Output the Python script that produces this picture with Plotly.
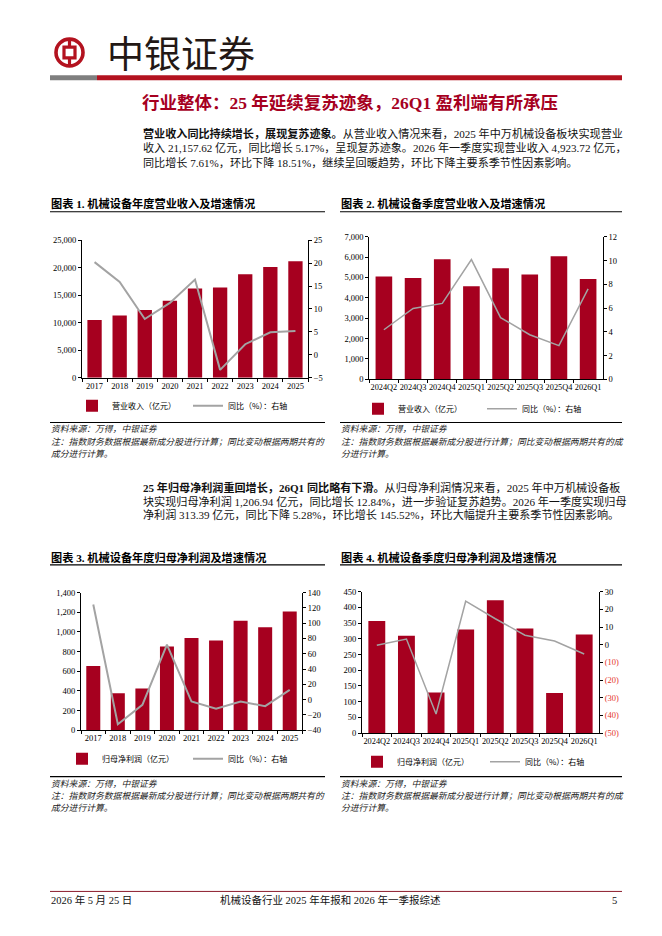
import plotly.graph_objects as go

W, H = 662, 936


def px(x):
    return x / W


def py(y):
    return 1 - y / H


# ---------------- data ----------------
years = ["2017", "2018", "2019", "2020", "2021", "2022", "2023", "2024", "2025"]
quarters = ["2024Q2", "2024Q3", "2024Q4", "2025Q1", "2025Q2", "2025Q3", "2025Q4", "2026Q1"]

rev_annual = [10500, 11300, 12300, 14000, 16200, 16400, 18800, 20100, 21157.62]
rev_annual_yoy = [20.2, 15.9, 7.8, 11.3, 16.4, -3.3, 2.3, 4.9, 5.17]

rev_q = [5050, 4970, 5900, 4575, 5450, 5150, 6042, 4923.72]
rev_q_yoy = [4.17, 5.97, 6.39, 10.08, 5.19, 3.75, 2.83, 7.61]

np_annual = [653, 375, 425, 851, 938, 914, 1115, 1048, 1206.94]
np_annual_yoy = [124.5, -32.2, -6.8, 72.0, -2.5, -12.0, -2.5, -8.6, 12.84]

np_q = [357, 310, 129, 330, 423, 333, 127.6, 313.39]
np_q_yoy = [-0.3, 3.2, -39.2, 24.6, 14.7, 5.4, 2.1, -5.28]

q_yoy_ticks = [30, 20, 10, 0, -10, -20, -30, -40, -50]
q_yoy_ticktext = ["30", "20", "10", "0"] + [
    "<span style='color:#e5332a'>(%d)</span>" % abs(v) for v in [-10, -20, -30, -40, -50]
]

# ---------------- styles ----------------
RED = "#a6001f"
GREY = "#a3a3a3"
NUMF = "Liberation Serif, Noto Sans CJK SC"
CNF = "Noto Sans CJK SC"
tickfont = dict(family=NUMF, size=8.5, color="#000")

fig = go.Figure()

bar_name_rev = "营业收入（亿元）"
bar_name_np = "归母净利润（亿元）"
line_name = "同比（%）：右轴"

# chart 1
fig.add_trace(go.Bar(x=years, y=rev_annual, name=bar_name_rev, marker=dict(color=RED, line=dict(width=0)),
                     xaxis="x", yaxis="y", legend="legend"))
fig.add_trace(go.Scatter(x=years, y=rev_annual_yoy, name=line_name, mode="lines",
                         line=dict(color=GREY, width=2), xaxis="x", yaxis="y2", legend="legend"))
# chart 2
fig.add_trace(go.Bar(x=quarters, y=rev_q, name=bar_name_rev, marker=dict(color=RED, line=dict(width=0)),
                     xaxis="x2", yaxis="y3", legend="legend2"))
fig.add_trace(go.Scatter(x=quarters, y=rev_q_yoy, name=line_name, mode="lines",
                         line=dict(color=GREY, width=1.5), xaxis="x2", yaxis="y4", legend="legend2"))
# chart 3
fig.add_trace(go.Bar(x=years, y=np_annual, name=bar_name_np, marker=dict(color=RED, line=dict(width=0)),
                     xaxis="x3", yaxis="y5", legend="legend3"))
fig.add_trace(go.Scatter(x=years, y=np_annual_yoy, name=line_name, mode="lines",
                         line=dict(color=GREY, width=2), xaxis="x3", yaxis="y6", legend="legend3"))
# chart 4
fig.add_trace(go.Bar(x=quarters, y=np_q, name=bar_name_np, marker=dict(color=RED, line=dict(width=0)),
                     xaxis="x4", yaxis="y7", legend="legend4"))
fig.add_trace(go.Scatter(x=quarters, y=np_q_yoy, name=line_name, mode="lines",
                         line=dict(color=GREY, width=1.5), xaxis="x4", yaxis="y8", legend="legend4"))


def xax(x0, x1, anchor, size=8.5):
    return dict(domain=[px(x0), px(x1)], anchor=anchor, type="category", showline=True,
                linecolor="#000", linewidth=1, ticks="outside", tickson="boundaries", ticklen=3,
                tickcolor="#000", showgrid=False, zeroline=False, tickangle=0, automargin=False,
                tickfont=dict(family=NUMF, size=size, color="#000"), fixedrange=True)


def yax(y0, y1, anchor, rng, dtick, fmt=",d"):
    return dict(domain=[py(y0), py(y1)], anchor=anchor, range=rng, dtick=dtick, tick0=0,
                showline=True, linecolor="#000", linewidth=1, ticks="outside", ticklen=3,
                tickcolor="#000", showgrid=False, zeroline=False, tickformat=fmt,
                tickfont=tickfont, fixedrange=True)


def yax2(over, anchor, rng, dtick):
    return dict(overlaying=over, side="right", anchor=anchor, range=rng, dtick=dtick, tick0=0,
                showline=True, linecolor="#000", linewidth=1, ticks="outside", ticklen=3,
                tickcolor="#000", showgrid=False, zeroline=False, tickfont=tickfont, fixedrange=True)


y8 = yax2("y7", "x4", [-50, 30], 10)
y8.update(tickmode="array", tickvals=q_yoy_ticks, ticktext=q_yoy_ticktext)


def leg(x, y, ew):
    return dict(x=px(x), y=py(y), xanchor="left", yanchor="middle", orientation="h",
                font=dict(family=CNF, size=8, color="#000"), bgcolor="rgba(0,0,0,0)",
                entrywidth=ew, entrywidthmode="pixels", itemwidth=30, tracegroupgap=0)


annotations = []


def txt(x, y, s, size=11, color="#000", family=NUMF, anchor="left"):
    annotations.append(dict(x=px(x), y=py(y), xref="paper", yref="paper", text=s, showarrow=False,
                            xanchor=anchor, yanchor="middle", align="left", borderpad=0,
                            font=dict(family=family, size=size, color=color)))


# header
txt(106, 48, "中银证券", size=37, color="#231815", family=CNF)
txt(141, 99, "<b>行业整体：25 年延续复苏迹象，26Q1 盈利端有所承压</b>", size=17.5, color=RED)

p1 = [
    "<b>营业收入同比持续增长，展现复苏迹象。</b>从营业收入情况来看，2025 年中万机械设备板块实现营业",
    "收入 21,157.62 亿元，同比增长 5.17%，呈现复苏迹象。2026 年一季度实现营业收入 4,923.72 亿元，",
    "同比增长 7.61%，环比下降 18.51%，继续呈回暖趋势，环比下降主要系季节性因素影响。",
]
for i, s in enumerate(p1):
    txt(142, 130 + 14.5 * i, s, size=11.1, color="#111")

p2 = [
    "<b>25 年归母净利润重回增长，26Q1 同比略有下滑。</b>从归母净利润情况来看，2025 年中万机械设备板",
    "块实现归母净利润 1,206.94 亿元，同比增长 12.84%，进一步验证复苏趋势。2026 年一季度实现归母",
    "净利润 313.39 亿元，同比下降 5.28%，环比增长 145.52%，环比大幅提升主要系季节性因素影响。",
]
for i, s in enumerate(p2):
    txt(142, 487.5 + 14 * i, s, size=11.1, color="#111")

# chart titles
TS = 11.2
txt(50, 201, "<b>图表 1. 机械设备年度营业收入及增速情况</b>", size=TS)
txt(340, 201, "<b>图表 2. 机械设备季度营业收入及增速情况</b>", size=TS)
txt(50, 558, "<b>图表 3. 机械设备年度归母净利润及增速情况</b>", size=TS)
txt(340, 558, "<b>图表 4. 机械设备季度归母净利润及增速情况</b>", size=TS)

# sources
NS = 8.8
src = "<i>资料来源：万得，中银证券</i>"
note_a = "<i>注：指数财务数据根据最新成分股进行计算；同比变动根据两期共有的</i>"
note_a2 = "<i>成分进行计算。</i>"
note_b = "<i>注：指数财务数据根据最新成分股进行计算；同比变动根据两期共有的成</i>"
note_b2 = "<i>分进行计算。</i>"
for (x, y0, n1, n2) in [(50, 429, note_a, note_a2), (340, 429, note_b, note_b2),
                        (50, 787, note_a, note_a2), (340, 787, note_b, note_b2)]:
    txt(x, y0, src, size=NS, color="#222")
    txt(x, y0 + 13, n1, size=NS, color="#222")
    txt(x, y0 + 24.5, n2, size=NS, color="#222")

# footer
txt(50, 905, "2026 年 5 月 25 日", size=10.5, color="#111")
txt(219, 905, "机械设备行业 2025 年年报和 2026 年一季报综述", size=10.5, color="#111")
txt(618, 905, "5", size=10.5, color="#111", anchor="right")

shapes = []


def hline(x0, x1, y, color="#000", width=1.2):
    shapes.append(dict(type="line", xref="paper", yref="paper", x0=px(x0), x1=px(x1), y0=py(y), y1=py(y),
                       line=dict(color=color, width=width)))


def rect(x0, x1, y0, y1, color):
    shapes.append(dict(type="rect", xref="paper", yref="paper", x0=px(x0), x1=px(x1), y0=py(y1), y1=py(y0),
                       line=dict(width=0), fillcolor=color))


LOGO = "#b3121f"
# header bar
rect(50, 97, 71, 76, "#7f7f7f")
rect(97, 622, 71, 76, LOGO)
# logo
shapes.append(dict(type="circle", xref="paper", yref="paper", x0=px(56), x1=px(83), y0=py(61.5), y1=py(34.5),
                   line=dict(color=LOGO, width=3.6), fillcolor="rgba(0,0,0,0)"))
shapes.append(dict(type="rect", xref="paper", yref="paper", x0=px(64), x1=px(75), y0=py(53.5), y1=py(42.5),
                   line=dict(color=LOGO, width=3.2), fillcolor="rgba(0,0,0,0)"))
shapes.append(dict(type="line", xref="paper", yref="paper", x0=px(69.5), x1=px(69.5), y0=py(34), y1=py(42.5),
                   line=dict(color=LOGO, width=3.2)))
shapes.append(dict(type="line", xref="paper", yref="paper", x0=px(69.5), x1=px(69.5), y0=py(53.5), y1=py(62),
                   line=dict(color=LOGO, width=3.2)))

# chart frames
for y in (209, 422):
    hline(50, 325, y)
    hline(340, 622, y)
for y in (566, 780):
    hline(50, 325, y)
    hline(340, 622, y)
hline(50, 622, 896, color="#8c1c2c", width=1)

fig.update_layout(
    width=W, height=H, autosize=False,
    margin=dict(l=0, r=0, t=0, b=0),
    paper_bgcolor="#fff", plot_bgcolor="rgba(0,0,0,0)",
    bargap=0.43,
    font=dict(family=NUMF, color="#000"),
    xaxis=xax(82, 308, "y"),
    yaxis=yax(376.7, 237.7, "x", [0, 25000], 5000),
    yaxis2=yax2("y", "x", [-5, 25], 5),
    xaxis2=xax(369.3, 602.7, "y3", size=8.3),
    yaxis3=yax(378.3, 234.3, "x2", [0, 7000], 1000),
    yaxis4=yax2("y3", "x2", [0, 12], 2),
    xaxis3=xax(81, 302, "y5"),
    yaxis5=yax(733, 594, "x3", [0, 1400], 200),
    yaxis6=yax2("y5", "x3", [-40, 140], 20),
    xaxis4=xax(362, 599, "y7", size=8.3),
    yaxis7=yax(736, 593, "x4", [0, 450], 50),
    yaxis8=y8,
    legend=leg(72, 405, 71),
    legend2=leg(358, 408, 79),
    legend3=leg(62, 762, 81),
    legend4=leg(357, 765, 83),
    annotations=annotations,
    shapes=shapes,
    showlegend=True,
)

fig.write_html("out.html", config={"displayModeBar": False, "staticPlot": True},
               post_script="document.body.style.margin='0';document.body.style.overflow='hidden';")
